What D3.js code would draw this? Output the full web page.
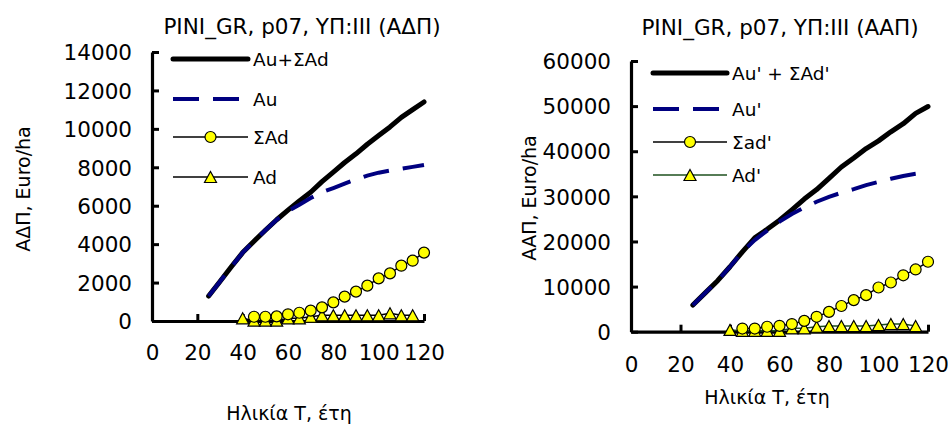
<!DOCTYPE html>
<html>
<head>
<meta charset="utf-8">
<script src="https://cdn.jsdelivr.net/npm/d3@7"></script>
<style>
  body { margin: 0; background: #fff; }
  svg { display: block; }
  text { font-family: "DejaVu Sans", Verdana, sans-serif; fill: #000; }
</style>
</head>
<body>
<svg id="chart" width="948" height="427"></svg>
<script>
// ---------- Data ----------
const agesMain = [25,30,35,40,45,50,55,60,65,70,75,80,85,90,95,100,105,110,115,120];
const agesSum  = [45,50,55,60,65,70,75,80,85,90,95,100,105,110,115,120];
const agesAd   = [40,45,50,55,60,65,70,75,80,85,90,95,100,105,110,115];
const xTicks = [0,20,40,60,80,100,120];

// Left panel (ΑΔΠ)
const leftTitle = "PINI_GR, p07, ΥΠ:ΙΙΙ (ΑΔΠ)";
const leftYLabel = "ΑΔΠ, Euro/ha";
const leftYTicks = [0,2000,4000,6000,8000,10000,12000,14000];
const leftNames = ["Au+ΣAd", "Au", "ΣAd", "Ad"];
const leftTotal = [1300,2060,2820,3560,4150,4720,5270,5770,6250,6700,7250,7750,8250,8700,9200,9650,10100,10600,11000,11400];
const leftAu    = [1300,2060,2820,3560,4150,4720,5270,5720,6050,6400,6700,6920,7150,7370,7570,7720,7830,7920,8020,8120];
const leftSumAd = [220,220,240,350,430,540,710,970,1270,1530,1840,2220,2480,2880,3140,3560];
const leftAd    = [140,20,20,20,140,140,220,300,300,300,300,300,300,400,300,300];

// Right panel (ΑΑΠ)
const rightTitle = "PINI_GR, p07, ΥΠ:ΙΙΙ (ΑΑΠ)";
const rightYLabel = "ΑΑΠ, Euro/ha";
const rightYTicks = [0,10000,20000,30000,40000,50000,60000];
const rightNames = ["Au' + ΣAd'", "Au'", "Σad'", "Ad'"];
const rightTotal = [5900,8600,11300,14400,17700,20800,22700,24700,27000,29400,31500,34000,36500,38500,40600,42300,44300,46100,48400,49900];
const rightAu    = [5900,8600,11300,14400,17700,20300,22400,24400,26100,27500,28800,29900,30800,31600,32500,33200,33900,34500,35000,35400];
const rightSumAd = [700,700,1100,1300,1700,2400,3300,4400,5700,7000,8100,9800,10900,12500,13800,15500];
const rightAd    = [400,200,200,200,200,750,750,1100,1260,1260,1260,1260,1480,1700,1700,1260];

const xLabel = "Ηλικία Τ, έτη";

// ---------- Drawing ----------
const svg = d3.select("#chart");
const FS_TICK = 21.5, FS_TITLE = 21.5, FS_LEG = 18.5, FS_AX = 19;

function tri(w, h) {
  return `M0,${-h/2}L${w/2},${h/2}L${-w/2},${h/2}Z`;
}

function panel(cfg) {
  const g = svg.append("g");
  const x = d3.scaleLinear().domain([0,120]).range([cfg.x0, cfg.x1]);
  const y = d3.scaleLinear().domain([0, cfg.yMax]).range([cfg.y0, cfg.y1]);

  // title
  g.append("text").attr("x", cfg.titleX).attr("y", cfg.titleY)
    .attr("text-anchor","middle").style("font-size", FS_TITLE + "px").text(cfg.title);

  // y axis
  const ya = g.append("g").attr("transform", `translate(${cfg.x0},0)`)
    .call(d3.axisLeft(y).tickValues(cfg.yTicks).tickSizeInner(-7).tickSizeOuter(0).tickPadding(20).tickFormat(d3.format("d")));
  ya.selectAll("text").style("font-size", FS_TICK + "px").attr("dy","0.36em");
  // x axis
  const xa = g.append("g").attr("transform", `translate(0,${cfg.y0})`)
    .call(d3.axisBottom(x).tickValues(xTicks).tickSizeInner(-7).tickSizeOuter(0).tickPadding(cfg.xPad).tickFormat(d3.format("d")));
  xa.selectAll("text").style("font-size", FS_TICK + "px");
  [ya, xa].forEach(a => {
    a.select(".domain").attr("stroke","#000").attr("stroke-width",3.2);
    a.selectAll(".tick line").attr("stroke","#000").attr("stroke-width",3);
  });

  // axis titles
  g.append("text").attr("x", cfg.xLabX).attr("y", cfg.xLabY).attr("text-anchor","middle")
    .style("font-size", FS_AX + "px").text(xLabel);
  g.append("text").attr("transform", `translate(${cfg.yLabX},${cfg.yLabY}) rotate(-90)`)
    .attr("text-anchor","middle").attr("dy","0.36em").style("font-size", FS_AX + "px").text(cfg.yLabel);

  const line = d3.line().x(d => x(d[0])).y(d => y(d[1]));
  const zip = (a, b) => a.map((v, i) => [v, b[i]]);

  // Ad line
  const adData = zip(agesAd, cfg.ad);
  g.append("path").datum(adData).attr("d", line).attr("fill","none")
    .attr("stroke", cfg.adColor).attr("stroke-width",1.5);
  // ΣAd line
  const sumData = zip(agesSum, cfg.sum);
  g.append("path").datum(sumData).attr("d", line).attr("fill","none")
    .attr("stroke","#000").attr("stroke-width",1.5);
  // total
  g.append("path").datum(zip(agesMain, cfg.total)).attr("d", line).attr("fill","none")
    .attr("stroke","#000").attr("stroke-width",5).attr("stroke-linecap","round").attr("stroke-linejoin","round");
  // Au dashed
  g.append("path").datum(zip(agesMain, cfg.au)).attr("d", line).attr("fill","none")
    .attr("stroke","#000080").attr("stroke-width",4).attr("stroke-dasharray","26,14");

  g.selectAll(".tri").data(adData).join("path").attr("class","tri")
    .attr("d", tri(12, 11)).attr("transform", d => `translate(${x(d[0])},${y(d[1])})`)
    .attr("fill","#ffff00").attr("stroke","#000").attr("stroke-width",1.2);
  g.selectAll(".circ").data(sumData).join("circle").attr("class","circ")
    .attr("cx", d => x(d[0])).attr("cy", d => y(d[1])).attr("r",5.5)
    .attr("fill","#ffff00").attr("stroke","#000").attr("stroke-width",1.2);

  // legend
  const L = cfg.leg;
  const rows = L.rows;
  const lg = g.append("g");
  lg.append("line").attr("x1",L.x1).attr("x2",L.x2).attr("y1",rows[0]).attr("y2",rows[0])
    .attr("stroke","#000").attr("stroke-width",5).attr("stroke-linecap","round");
  lg.append("line").attr("x1",L.x1).attr("x2",L.x2 - 8).attr("y1",rows[1]).attr("y2",rows[1])
    .attr("stroke","#000080").attr("stroke-width",4).attr("stroke-dasharray","26,14");
  lg.append("line").attr("x1",L.x1).attr("x2",L.x2).attr("y1",rows[2]).attr("y2",rows[2])
    .attr("stroke","#000").attr("stroke-width",1.5);
  lg.append("line").attr("x1",L.x1).attr("x2",L.x2).attr("y1",rows[3]).attr("y2",rows[3])
    .attr("stroke",cfg.adColor).attr("stroke-width",1.5);
  const mx = (L.x1 + L.x2) / 2;
  lg.append("circle").attr("cx",mx).attr("cy",rows[2]).attr("r",5.5)
    .attr("fill","#ffff00").attr("stroke","#000").attr("stroke-width",1.2);
  lg.append("path").attr("d", tri(12,11)).attr("transform",`translate(${mx},${rows[3]})`)
    .attr("fill","#ffff00").attr("stroke","#000").attr("stroke-width",1.2);
  cfg.names.forEach((n, i) => {
    lg.append("text").attr("x", L.tx).attr("y", rows[i]).attr("dy","0.36em")
      .style("font-size", FS_LEG + "px").text(n);
  });
}

panel({
  x0:152, x1:424, y0:321, y1:52, yMax:14000, yTicks:leftYTicks,
  title:leftTitle, titleX:302, titleY:34, 
  xPad:24, xLabX:289, xLabY:420, yLabX:23, yLabY:189, yLabel:leftYLabel,
  total:leftTotal, au:leftAu, sum:leftSumAd, ad:leftAd, adColor:"#000",
  names:leftNames,
  leg:{x1:173, x2:248, tx:253, rows:[59,99,137,177]}
});

panel({
  x0:631, x1:928, y0:331.7, y1:61, yMax:60000, yTicks:rightYTicks,
  title:rightTitle, titleX:780, titleY:35,
  xPad:25, xLabX:767, xLabY:404, yLabX:529, yLabY:198, yLabel:rightYLabel,
  total:rightTotal, au:rightAu, sum:rightSumAd, ad:rightAd, adColor:"#1e501e",
  names:rightNames,
  leg:{x1:653, x2:727, tx:732, rows:[73,109,142,175]}
});
</script>
</body>
</html>
